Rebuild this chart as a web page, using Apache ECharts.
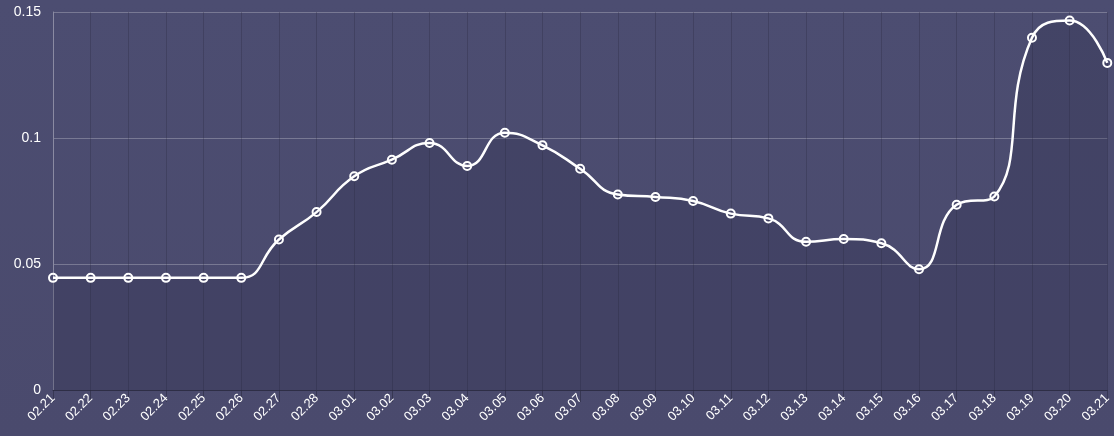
<!DOCTYPE html>
<html>
<head>
<meta charset="utf-8">
<script src="https://cdn.jsdelivr.net/npm/echarts@6/dist/echarts.min.js"></script>
<style>
html,body{margin:0;padding:0;background:#4a4a6d;}
#c{width:1114px;height:436px;}
</style>
</head>
<body>
<div id="c"></div>
<script>
const categories = ['02.21','02.22','02.23','02.24','02.25','02.26','02.27','02.28','03.01','03.02','03.03','03.04','03.05','03.06','03.07','03.08','03.09','03.10','03.11','03.12','03.13','03.14','03.15','03.16','03.17','03.18','03.19','03.20','03.21'];
const values = [0.0445,0.0445,0.0445,0.0445,0.0445,0.0445,0.0597,0.0706,0.0848,0.0914,0.0980,0.0889,0.1021,0.0971,0.0878,0.0776,0.0766,0.0750,0.0700,0.0681,0.0588,0.0599,0.0582,0.0479,0.0735,0.0768,0.1398,0.1466,0.1298];
const yTicks = [0, 0.05, 0.1, 0.15];

const chart = echarts.init(document.getElementById('c'), null, {renderer:'canvas'});
chart.setOption({
  backgroundColor: {
    type: 'linear', x: 0, y: 0, x2: 0, y2: 1,
    colorStops: [{offset: 0, color: '#4c4d71'}, {offset: 1, color: '#4a4a6d'}]
  },
  animation: false,
  grid: {left: 53, right: 4, top: 12, bottom: 46, containLabel: false},
  xAxis: {
    type: 'category',
    data: categories,
    boundaryGap: false,
    axisLine: {lineStyle: {color: '#2e2e46', width: 1}},
    axisTick: {show: true, length: 12, lineStyle: {color: 'rgba(40,40,62,0.55)'}},
    axisLabel: {color: '#ffffff', fontSize: 13, rotate: 45, margin: 6, fontFamily: 'Liberation Sans, Arial, sans-serif'},
    splitLine: {show: true, lineStyle: {color: 'rgba(30,30,50,0.25)', width: 1}}
  },
  yAxis: {
    type: 'value',
    min: 0, max: 0.15, interval: 0.05,
    axisLine: {show: true, lineStyle: {color: '#8a8aa2', width: 1}},
    axisTick: {show: false},
    axisLabel: {color: '#ffffff', fontSize: 14, margin: 12, fontFamily: 'Liberation Sans, Arial, sans-serif',
      formatter: function(v){ return yTicks.indexOf(+v.toFixed(2)) >= 0 ? String(+v.toFixed(2)) : ''; }},
    splitLine: {show: true, lineStyle: {color: 'rgba(255,255,255,0.25)', width: 1}}
  },
  series: [{
    type: 'line',
    data: values,
    smooth: true,
    symbol: 'circle',
    symbolSize: 8,
    showAllSymbol: true,
    lineStyle: {color: '#ffffff', width: 2.5},
    itemStyle: {color: 'rgba(0,0,0,0)', borderColor: '#ffffff', borderWidth: 2},
    areaStyle: {color: 'rgba(40,40,70,0.35)'}
  }]
});
</script>
</body>
</html>
